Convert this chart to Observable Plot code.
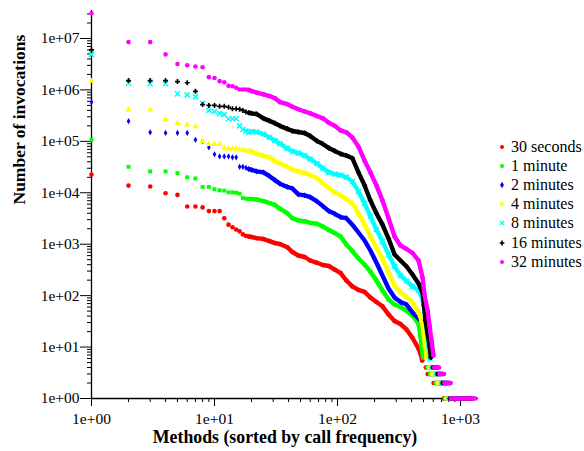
<!DOCTYPE html>
<html><head><meta charset="utf-8">
<script src="https://cdn.jsdelivr.net/npm/d3@7"></script>
<script src="https://cdn.jsdelivr.net/npm/@observablehq/plot@0.6"></script>
<style>
body{margin:0;background:#fff;}
#wrap{position:relative;width:584px;height:451px;font-family:"Liberation Serif","Times New Roman",serif;}
#legend{position:absolute;left:497px;top:137px;font-size:16px;color:#000}
.item{display:flex;align-items:center;height:19.2px;white-space:nowrap}
.item svg{margin-right:4px}
</style></head><body><div id="wrap"><div id="legend"></div></div>
<script>
const seriesNames = ["30 seconds","1 minute","2 minutes","4 minutes","8 minutes","16 minutes","32 minutes"];
const seriesColors = ["#ff0000","#00ff00","#0000ff","#ffff00","#00ffff","#000000","#ff00ff"];
const seriesSymbols = ["circle","square","diamond","triangle","times","cross","circle"];

const yTicks = [1,10,100,1e3,1e4,1e5,1e6,1e7];
const yTickLabels = ["1e+00","1e+01","1e+02","1e+03","1e+04","1e+05","1e+06","1e+07"];
const xTicks = [1,10,100,1000];
const xTickLabels = ["1e+00","1e+01","1e+02","1e+03"];

// ranks 1..19 (individual methods)
const headRed     = [22700,13800,13200,9800,9100,5400,5400,5200,4400,4400,4400,3200,2400,2140,1930,1780,1550,1450,1410];
const headGreen   = [107000,32000,26000,26000,24000,20000,19000,13000,13000,11700,11200,11000,10200,10200,10000,9600,7900,7700,7600];
const headBlue    = [580000,246000,150000,146000,146000,146000,107000,100000,76000,56000,51000,51000,51000,49000,49000,32000,32000,30500,29000];
const headYellow  = [1500000,410000,410000,266000,225000,210000,195000,100000,88000,88000,88000,74000,72000,72000,72000,68000,68000,66000,64000];
const headCyan    = [4900000,1350000,1320000,1320000,840000,800000,740000,550000,400000,380000,350000,330000,275000,275000,275000,200000,170000,160000,150000];
const headBlack   = [6000000,1520000,1520000,1520000,1450000,1380000,940000,520000,500000,500000,480000,480000,460000,430000,430000,420000,400000,370000,360000];
const headMagenta = [31000000,8500000,8500000,4900000,3200000,3000000,2850000,2760000,1770000,1700000,1480000,1410000,1200000,1180000,1100000,1020000,1020000,1020000,1000000];

// dense part, read at these ranks
const gridRanks = [20,22,25,28,31,34,39,43,48,54,60,68,76,85,95,106,118,132,148,166,185,207,232,260,291,325,364,407,456];
const gridRed     = [1380,1310,1260,1150,1050,1010,875,705,603,564,482,435,394,377,322,275,197,151,129,118,92,75,62,43,32,28,22,15,9.3];
const gridGreen   = [7600,7400,6900,6300,5800,4900,4000,3200,2900,2800,2600,2500,2200,1890,1650,1410,987,738,527,403,294,197,126,84,67,60,51,41,28];
const gridBlue    = [28000,26000,25000,21000,17600,15000,13000,12100,9300,8900,8200,6800,5500,4400,3900,3350,3200,2400,1690,1180,755,441,246,138,92,75,67,47,36];
const gridYellow  = [64000,57000,52000,49000,41000,37000,32000,28000,26000,24000,22000,19400,15500,12400,10100,8900,7600,6200,4000,2400,1410,863,527,282,157,118,94,74,47];
const gridCyan    = [155000,152000,139000,119000,103000,90000,73000,64000,59000,53000,45000,37000,30000,25000,23000,22000,20000,16600,10600,6200,3500,1930,1130,631,369,246,193,151,126];
const gridBlack   = [350000,340000,280000,250000,225000,200000,175000,159000,152000,145000,127000,102000,89000,74000,65000,57000,53000,47000,25000,13900,7100,4000,2400,1290,630,482,369,258,172];
const gridMagenta = [950000,890000,820000,760000,690000,580000,530000,470000,420000,380000,350000,310000,280000,230000,200000,163000,150000,119000,79000,42000,25000,13900,7100,3200,1410,944,807,675,482];

// steep drop: [rank, count]
const steepRed     = [[473,7.4],[488,5.5]];
const steepGreen   = [[469,18.4],[482,10.7],[495,6.3]];
const steepBlue    = [[491,30],[510,21],[524,12.3],[539,6.9]];
const steepYellow  = [[482,33],[500,19],[515,10.7],[529,6.3]];
const steepCyan    = [[491,88],[510,51],[529,26],[549,10.7],[565,6.0]];
const steepBlack   = [[491,115],[505,64],[519,33],[539,18.4],[560,10.7],[575,6.3]];
const steepMagenta = [[491,225],[510,101],[540,51],[560,26],[581,13.4],[603,6.9]];

// runs of equal small counts: [count, first rank, last rank]
const tailRed     = [[4,526,544],[3,545,608],[2,609,734],[1,735,1000]];
const tailGreen   = [[4,541,566],[3,567,630],[2,631,752],[1,753,1050]];
const tailBlue    = [[4,571,610],[3,611,675],[2,676,788],[1,789,1150]];
const tailYellow  = [[4,556,588],[3,589,653],[2,654,770],[1,771,1100]];
const tailCyan    = [[4,585,632],[3,633,698],[2,699,805],[1,806,1200]];
const tailBlack   = [[4,600,654],[3,655,720],[2,721,823],[1,824,1260]];
const tailMagenta = [[4,615,676],[3,677,743],[2,744,841],[1,842,1330]];

const heads = [headRed,headGreen,headBlue,headYellow,headCyan,headBlack,headMagenta];
const grids = [gridRed,gridGreen,gridBlue,gridYellow,gridCyan,gridBlack,gridMagenta];
const steeps = [steepRed,steepGreen,steepBlue,steepYellow,steepCyan,steepBlack,steepMagenta];
const tails = [tailRed,tailGreen,tailBlue,tailYellow,tailCyan,tailBlack,tailMagenta];

const minorY = [];
for (let k = 0; k <= 7; k++) for (let m = 2; m <= 9; m++) { const v = m * 10 ** k; if (v <= 3.5e7) minorY.push(v); }
const minorX = [];
for (let k = 0; k <= 3; k++) for (let m = 2; m <= 9; m++) { const v = m * 10 ** k; if (v <= 1400) minorX.push(v); }

const symR = {circle: 2.3, square: 2.2, diamond: 1.9, triangle: 2.3, times: 2.4, cross: 2.1};

const marks = [];
seriesNames.forEach((name, s) => {
  const rows = [
    ...heads[s].map((c, i) => ({rank: i + 1, count: c})),
    ...grids[s].map((c, i) => ({rank: gridRanks[i], count: c})),
    ...steeps[s].map(([r, c]) => ({rank: r, count: c}))
  ];
  const color = seriesColors[s];
  marks.push(Plot.line(rows.filter(d => d.rank >= 19), {x: "rank", y: "count", stroke: color, strokeWidth: 4.4, strokeLinejoin: "round", strokeLinecap: "round"}));
  const sym = seriesSymbols[s];
  if (sym === "times") {
    marks.push(Plot.dot(rows, {x: "rank", y: "count", symbol: sym, stroke: color, strokeWidth: 1.6, fill: "none", r: symR[sym]}));
  } else {
    marks.push(Plot.dot(rows, {x: "rank", y: "count", symbol: sym, fill: color, stroke: "none", r: symR[sym]}));
  }
  marks.push(Plot.ruleY(tails[s], {y: d => d[0], x1: d => d[1], x2: d => d[2], stroke: color, strokeWidth: 4.4, strokeLinecap: "round"}));
});

const chart = Plot.plot({
  width: 584, height: 451,
  marginLeft: 91, marginRight: 106, marginTop: 10, marginBottom: 53,
  style: {fontFamily: '"Liberation Serif", "Times New Roman", serif', fontSize: "15.5px", background: "white", color: "black", overflow: "visible"},
  x: {type: "log", domain: [1, 1400]},
  y: {type: "log", domain: [1, 3.5e7]},
  marks: [
    Plot.ruleX([1], {stroke: "black", strokeWidth: 1.3}),
    Plot.ruleY([1], {stroke: "black", strokeWidth: 1.3}),
    Plot.axisY({ticks: minorY, tickSize: 4, tickFormat: () => "", label: null}),
    Plot.axisY({ticks: yTicks, tickSize: 11, tickPadding: 1, tickFormat: d => yTickLabels[yTicks.indexOf(d)], label: null, fontSize: 15.5}),
    Plot.axisX({ticks: minorX, tickSize: 4, tickFormat: () => "", label: null}),
    Plot.axisX({ticks: xTicks, tickSize: 8, tickPadding: 6, tickFormat: d => xTickLabels[xTicks.indexOf(d)], label: null, fontSize: 15.5}),
    ...marks,
    Plot.text(["Methods (sorted by call frequency)"], {frameAnchor: "bottom", dy: 44, fontWeight: "bold", fontSize: 17.8}),
    Plot.text(["Number of invocations"], {frameAnchor: "left", dx: -72, rotate: -90, fontWeight: "bold", fontSize: 17.5})
  ]
});
document.getElementById("wrap").prepend(chart);

const legend = document.getElementById("legend");
seriesNames.forEach((name, s) => {
  const item = document.createElement("div");
  item.className = "item";
  const svg = d3.create("svg").attr("width", 10).attr("height", 10);
  const symMap = {circle: d3.symbolCircle, square: d3.symbolSquare, diamond: d3.symbolDiamond, triangle: d3.symbolTriangle, times: d3.symbolTimes, cross: d3.symbolCross};
  const p = svg.append("path").attr("transform", "translate(5,5)").attr("d", d3.symbol(symMap[seriesSymbols[s]], 13)());
  if (seriesSymbols[s] === "times") p.attr("fill", "none").attr("stroke", seriesColors[s]).attr("stroke-width", 1.4);
  else p.attr("fill", seriesColors[s]);
  item.appendChild(svg.node());
  const t = document.createElement("span");
  t.textContent = name;
  item.appendChild(t);
  legend.appendChild(item);
});
</script></body></html>
